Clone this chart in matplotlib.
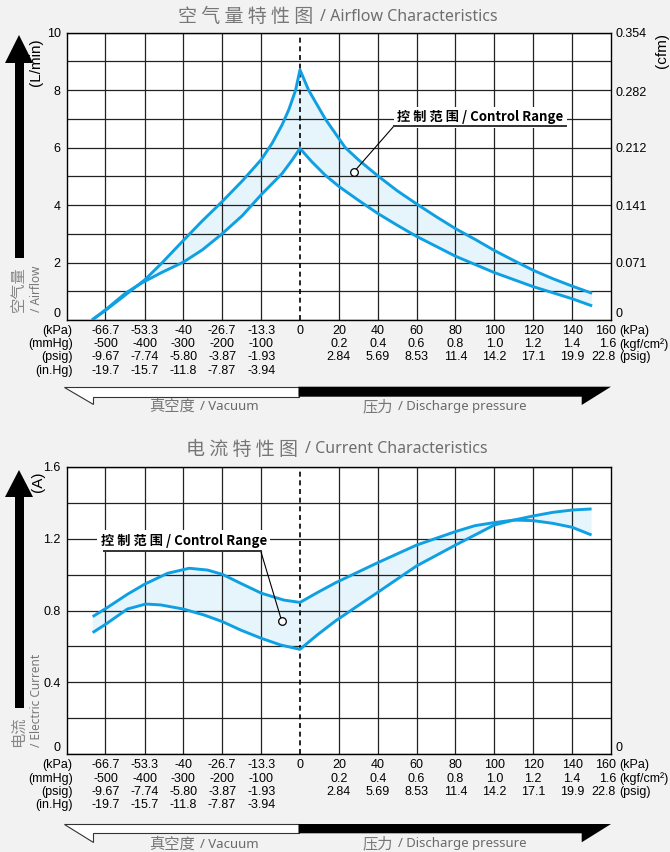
import numpy as np
import matplotlib
matplotlib.use("Agg")
import matplotlib.pyplot as plt
from matplotlib.patches import Polygon
from matplotlib.ticker import NullLocator

plt.rcParams["font.family"] = ["Liberation Sans", "Noto Sans CJK SC"]

W, H = 670, 852
BG = "#f2f2f2"
BLUE = "#0ea0e3"
FILL = "#e6f4fc"
GREY = "#777777"

# x axis: vacuum side (kPa) and pressure side (kPa) columns
vac_kpa = [-66.7, -53.3, -40, -26.7, -13.3]
vac_kpa_lbl = ["-66.7", "-53.3", "-40", "-26.7", "-13.3"]
vac_mmhg = ["-500", "-400", "-300", "-200", "-100"]
vac_psig = ["-9.67", "-7.74", "-5.80", "-3.87", "-1.93"]
vac_inhg = ["-19.7", "-15.7", "-11.8", "-7.87", "-3.94"]
prs_kpa = [20, 40, 60, 80, 100, 120, 140, 160]
prs_kgf = ["0.2", "0.4", "0.6", "0.8", "1.0", "1.2", "1.4", "1.6"]
prs_psig = ["2.84", "5.69", "8.53", "11.4", "14.2", "17.1", "19.9", "22.8"]

# airflow (L/min), upper and lower limit of the control range
air_hi_kpa = [-71.3, -66.5, -59.9, -53.2, -47.3, -39.9, -33.5, -26.7, -19.8, -13.3,
              -9.5, -6.1, -3.8, -1.5, 0,
              4.45, 13.0, 23.3, 30, 40, 50, 60, 70, 80, 90, 100, 110, 120, 130, 140, 150.3]
air_hi = [0, 0.35, 0.87, 1.40, 1.99, 2.78, 3.45, 4.12, 4.84, 5.58,
          6.16, 6.80, 7.33, 8.0, 8.71,
          8.0, 7.0, 6.0, 5.58, 5.02, 4.5, 4.04, 3.6, 3.18, 2.81, 2.42, 2.07, 1.73, 1.44, 1.18, 0.93]
air_lo_kpa = [-71.3, -66.5, -59.9, -54.1, -47.3, -39.9, -33.5, -26.7, -19.8, -13.3,
              -6.1, -2.6, 0,
              6.2, 13.0, 20, 30, 40, 50, 60, 80, 100, 120, 140, 150.3]
air_lo = [0, 0.37, 0.93, 1.30, 1.66, 2.02, 2.44, 3.0, 3.63, 4.36,
          5.1, 5.58, 5.97,
          5.50, 5.04, 4.65, 4.17, 3.71, 3.3, 2.91, 2.22, 1.65, 1.16, 0.74, 0.49]
air_yticks = [0, 2, 4, 6, 8, 10]
cfm_ticks = [0, 0.071, 0.141, 0.212, 0.282, 0.354]

# current (A)
cur_hi_kpa = [-71.1, -66.5, -59.2, -53.2, -45.4, -38.0, -31.7, -26.6, -20.3, -13.2, -5.5, 0,
              9, 18.4, 40, 60, 80, 90, 100, 110, 120, 130, 140, 150]
cur_hi = [0.766, 0.812, 0.890, 0.947, 1.007, 1.035, 1.025, 1.001, 0.951, 0.896, 0.858, 0.845,
          0.90, 0.955, 1.066, 1.164, 1.239, 1.272, 1.289, 1.303, 1.30, 1.285, 1.263, 1.22]
cur_lo_kpa = [-71.1, -66.5, -59.2, -52.9, -47.8, -40.0, -32.9, -26.6, -20.3, -13.2, -6.6, 0,
              9, 18.4, 40, 60, 80, 90, 100, 110, 120, 130, 140, 150]
cur_lo = [0.677, 0.725, 0.808, 0.836, 0.831, 0.808, 0.775, 0.738, 0.691, 0.645, 0.608, 0.584,
          0.665, 0.743, 0.901, 1.048, 1.164, 1.22, 1.276, 1.303, 1.326, 1.346, 1.359, 1.365]
cur_yticks = [0, 0.4, 0.8, 1.2, 1.6]


# vacuum side is 13.33 kPa per column, pressure side 20 kPa per column
def fwd(x):
    x = np.asarray(x, dtype=float)
    return np.where(x < 0, x * 0.075, x / 20.0)


def inv(c):
    c = np.asarray(c, dtype=float)
    return np.where(c < 0, c / 0.075, c * 20.0)


def fx(x):
    return x / W


def fy(y):
    return 1 - y / H


def style(ax, ymax, yticks, ystep):
    ax.set_xscale("function", functions=(fwd, inv))
    ax.set_xlim(-80, 160)
    ax.set_ylim(0, ymax)
    ax.set_xticks(vac_kpa + prs_kpa[:-1])
    ax.set_xticklabels([])
    ax.xaxis.set_minor_locator(NullLocator())
    ax.set_yticks(yticks)
    ax.set_yticklabels(["0"] + ["%g" % v for v in yticks[1:]])
    ax.set_yticks(np.arange(ystep, ymax, ystep * 2), minor=True)
    ax.grid(True, which="both", color="#222222", lw=0.9)
    ax.set_axisbelow(True)
    ax.tick_params(which="both", length=0, labelsize=9, pad=4.3)
    ax.get_yticklabels()[0].set_va("bottom")
    for s in ax.spines.values():
        s.set_linewidth(1.0)
        s.set_color("black")
    ax.axvline(0, color="black", lw=1.2, ls=(0, (3, 2.2)), zorder=2)

    # multi-unit x labels
    row_dy = [11, 24.3, 37.3, 51]
    left_rows = [vac_kpa_lbl + ["0"], vac_mmhg, vac_psig, vac_inhg]
    left_names = ["(kPa)", "(mmHg)", "(psig)", "(in.Hg)"]
    for i, labels in enumerate(left_rows):
        for x, s in zip(vac_kpa + [0], labels):
            ax.annotate(s, (x, 0), xycoords=("data", "axes fraction"),
                        xytext=(0, -row_dy[i] * 0.72), textcoords="offset points",
                        ha="center", va="center", fontsize=9)
        ax.annotate(left_names[i], (0, 0), xycoords="axes fraction",
                    xytext=(6 * 0.72, -row_dy[i] * 0.72), textcoords="offset points",
                    ha="right", va="center", fontsize=9)
    right_rows = [[str(v) for v in prs_kpa], prs_kgf, prs_psig]
    right_names = ["(kPa)", "(kgf/cm²)", "(psig)"]
    for i, labels in enumerate(right_rows):
        for j, (x, s) in enumerate(zip(prs_kpa, labels)):
            last = j == len(prs_kpa) - 1
            ax.annotate(s, (x, 0), xycoords=("data", "axes fraction"),
                        xytext=(5 * 0.72 if last else 0, -row_dy[i] * 0.72),
                        textcoords="offset points",
                        ha="right" if last else "center", va="center", fontsize=9)
        ax.annotate(right_names[i], (1, 0), xycoords="axes fraction",
                    xytext=(8 * 0.72, -row_dy[i] * 0.72), textcoords="offset points",
                    ha="left", va="center", fontsize=9)


def right_axis(ax, ymax, ticks, labels):
    r = ax.twinx()
    r.set_ylim(0, ymax)
    r.set_yticks(ticks)
    r.set_yticklabels(labels)
    r.tick_params(length=0, pad=3.6, labelsize=9)
    r.get_yticklabels()[0].set_va("bottom")
    for s in r.spines.values():
        s.set_visible(False)
    return r


def band(ax, xh, yh, xl, yl):
    ax.fill(np.r_[xh, xl[::-1]], np.r_[yh, yl[::-1]], color=FILL, lw=0, zorder=0.3)
    for xs, ys in ((xh, yh), (xl, yl)):
        ax.plot(xs, ys, color=BLUE, lw=2.1, zorder=3,
                solid_capstyle="butt", solid_joinstyle="round")


def callout(ax, circle, corner, end, txt):
    ax.plot([circle[0], corner[0]], [circle[1], corner[1]], color="black", lw=0.8, zorder=6)
    ax.plot([corner[0], end[0]], [corner[1], end[1]], color="#333333", lw=1.4, zorder=6)
    ax.plot(*circle, "o", mfc="white", mec="black", ms=5.5, mew=0.9, zorder=7)
    ax.text(txt[0], txt[1], "控 制 范 围 / Control Range", ha="center", va="center",
            fontsize=9.5, fontweight="bold", family=["Noto Sans CJK SC"], zorder=5,
            bbox=dict(fc="white", ec="none", pad=2.5))


def up_arrow(tip_y, base_y, shaft_bot):
    pts = [(19, tip_y), (33, base_y), (24, base_y), (24, shaft_bot),
           (15, shaft_bot), (15, base_y), (5, base_y)]
    fig.patches.append(Polygon([(fx(x), fy(y)) for x, y in pts], closed=True,
                               transform=fig.transFigure, fc="black", ec="none"))


def bottom_band(y0, y1, yl, yr, ytxt):
    white = [(64, y0), (298.5, y0), (298.5, y1), (92.7, y1), (92.7, yl)]
    black = [(298.5, y0), (611, y0), (581.7, yr), (581.7, y1), (298.5, y1)]
    fig.patches.append(Polygon([(fx(x), fy(y)) for x, y in white], closed=True,
                               transform=fig.transFigure, fc="white", ec="#333333", lw=0.8))
    fig.patches.append(Polygon([(fx(x), fy(y)) for x, y in black], closed=True,
                               transform=fig.transFigure, fc="black", ec="none"))
    fig.text(fx(195), fy(ytxt), "真空度", ha="right", va="center", fontsize=11,
             color=GREY, family="Noto Sans CJK SC")
    fig.text(fx(200), fy(ytxt), "/ Vacuum", ha="left", va="center", fontsize=9.5,
             color="#6a6a6a", family="Noto Sans")
    fig.text(fx(393), fy(ytxt), "压力", ha="right", va="center", fontsize=11,
             color=GREY, family="Noto Sans CJK SC")
    fig.text(fx(398), fy(ytxt), "/ Discharge pressure", ha="left", va="center",
             fontsize=9.5, color="#6a6a6a", family="Noto Sans")


def title(cjk, eng, x_split, y):
    fig.text(fx(x_split), fy(y), cjk, ha="right", va="center", fontsize=13.7,
             color=GREY, family="Noto Sans CJK SC")
    fig.text(fx(x_split + 7), fy(y), eng, ha="left", va="center", fontsize=11.5,
             color="#6e6e6e", family="Noto Sans")


fig = plt.figure(figsize=(W / 100, H / 100), dpi=100, facecolor=BG)
ax1 = fig.add_axes([fx(66.7), fy(320), (611 - 66.7) / W, (320 - 32.7) / H])
ax2 = fig.add_axes([fx(66.7), fy(754.3), (611 - 66.7) / W, (754.3 - 466.7) / H])

# ---- airflow chart
style(ax1, 10, air_yticks, 1)
band(ax1, air_hi_kpa, air_hi, air_lo_kpa, air_lo)
callout(ax1, (27.8, 5.16), (48.2, 6.74), (136.6, 6.74), (92.7, 7.06))
right_axis(ax1, 0.354, cfm_ticks, ["0", "0.071", "0.141", "0.212", "0.282", "0.354"])

# ---- current chart
style(ax2, 1.6, cur_yticks, 0.2)
band(ax2, cur_hi_kpa, cur_hi, cur_lo_kpa, cur_lo)
callout(ax2, (-6.27, 0.742), (-13.5, 1.133), (-67.3, 1.133), (-39.9, 1.187))
right_axis(ax2, 1.6, [0], ["0"])

# titles, side labels, direction arrows
title("空 气 量 特 性 图", "/ Airflow Characteristics", 313, 16.7)
title("电 流 特 性 图", "/ Current Characteristics", 298, 449)

up_arrow(35, 63, 258)
up_arrow(470, 497, 708)
fig.text(fx(18.5), fy(312), "空气量", rotation=90, ha="center", va="bottom",
         fontsize=11, color="#888888", family="Noto Sans CJK SC")
fig.text(fx(36), fy(312), "/ Airflow", rotation=90, ha="center", va="bottom",
         fontsize=8.5, color=GREY, family="Noto Sans")
fig.text(fx(18.5), fy(747), "电流", rotation=90, ha="center", va="bottom",
         fontsize=11, color="#888888", family="Noto Sans CJK SC")
fig.text(fx(36), fy(747), "/ Electric Current", rotation=90, ha="center", va="bottom",
         fontsize=8.5, color=GREY, family="Noto Sans")
fig.text(fx(36), fy(62), "(L/min)", rotation=90, ha="center", va="center", fontsize=11)
fig.text(fx(662), fy(50), "(cfm)", rotation=90, ha="center", va="center", fontsize=11)
fig.text(fx(38), fy(482), "(A)", rotation=90, ha="center", va="center", fontsize=11)

bottom_band(386.7, 396.7, 404, 405, 406.7)
bottom_band(824, 833.3, 841.7, 842.3, 844)

fig.savefig("out.png", dpi=100, facecolor=BG)
